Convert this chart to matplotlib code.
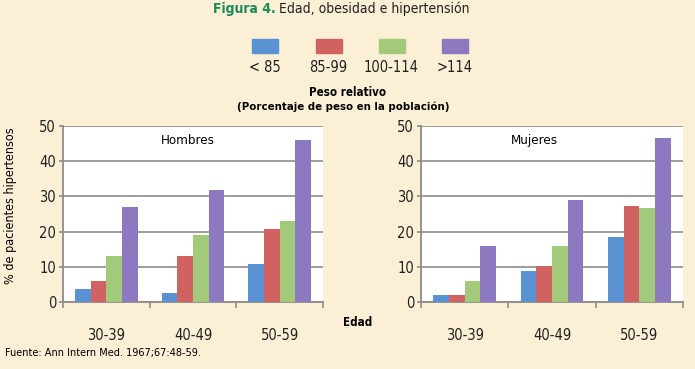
import numpy as np
import matplotlib
matplotlib.use("Agg")
import matplotlib.pyplot as plt
from matplotlib.patches import Rectangle

plt.rcParams['font.family'] = ['DejaVu Sans']
plt.rcParams['font.stretch'] = 'condensed'

# data
ages = ["30-39", "40-49", "50-59"]
weight_groups = ["< 85", "85-99", "100-114", ">114"]
hombres = [
    [3.6, 2.6, 10.9],    # < 85
    [5.9, 13.0, 20.7],   # 85-99
    [13.0, 18.9, 23.0],  # 100-114
    [27.0, 31.9, 45.9],  # >114
]
mujeres = [
    [1.9, 8.7, 18.6],
    [1.9, 10.2, 27.2],
    [6.0, 15.9, 26.8],
    [15.9, 29.0, 46.5],
]

colors = ["#5A92D4", "#D06361", "#A3C97B", "#8D79BF"]
bg = "#FBF0D6"
grid_col = "#8C8C8C"
W, H = 695, 369

fig = plt.figure(figsize=(6.95, 3.69), dpi=100, facecolor=bg)

def panel(rect, data, label, label_x):
    ax = fig.add_axes(rect)
    ax.set_facecolor("white")
    x = np.arange(len(ages))
    w = 0.18
    for i, vals in enumerate(data):
        ax.bar(x + (i - 1.5) * w, vals, width=w, color=colors[i], zorder=3)
    ax.set_xlim(-0.5, 2.5)
    ax.set_ylim(0, 50)
    ax.set_yticks([0, 10, 20, 30, 40, 50])
    ax.yaxis.grid(True, color=grid_col, linewidth=1.2, zorder=1)
    ax.set_xticks([-0.5, 0.5, 1.5, 2.5])
    ax.set_xticklabels([])
    ax.set_xticks(x, minor=True)
    ax.set_xticklabels(ages, minor=True, fontsize=10.5, color="#222222")
    ax.tick_params(axis="x", which="minor", length=0, pad=19)
    ax.tick_params(axis="x", which="major", length=4, color=grid_col, width=1.2)
    ax.tick_params(axis="y", length=3, color=grid_col, width=1.2, labelsize=10.5,
                   pad=2, labelcolor="#222222")
    for s in ["top", "right"]:
        ax.spines[s].set_visible(False)
    for s in ["left", "bottom"]:
        ax.spines[s].set_color(grid_col)
        ax.spines[s].set_linewidth(1.3)
    ax.text(label_x, 46.0, label, fontsize=9.5, ha="center", va="center")
    return ax

ax1 = panel([63 / W, 1 - 302 / H, 260 / W, 176 / H], hombres, "Hombres", 0.94)
ax2 = panel([421 / W, 1 - 302 / H, 262 / W, 176 / H], mujeres, "Mujeres", 0.80)

fig.text(11 / W, 1 - 206 / H, "% de pacientes hipertensos", fontsize=9,
         rotation=90, ha="center", va="center")

# title: bold green prefix, then plain text right after it
t1 = fig.text(213 / W, 1 - 9 / H, "Figura 4.", color="#1E8A5A", fontweight="bold",
              fontsize=10, ha="left", va="center")
fig.canvas.draw()
bb = t1.get_window_extent()
fig.text((bb.x1 + 3) / W, 1 - 9 / H, "Edad, obesidad e hipertensión",
         color="#222222", fontsize=10, ha="left", va="center")

# legend
centers = [265, 328.5, 391.5, 454.5]
for c, lab, col in zip(centers, weight_groups, colors):
    fig.patches.append(Rectangle(((c - 13) / W, 1 - 53 / H), 26 / W, 14 / H,
                                 transform=fig.transFigure, color=col))
    fig.text(c / W, 1 - 67 / H, lab, fontsize=10.5, ha="center", va="center",
             color="#222222")

fig.text(348 / W, 1 - 92 / H, "Peso relativo", fontweight="bold", fontsize=8.3,
         ha="center", va="center")
fig.text(343 / W, 1 - 107 / H, "(Porcentaje de peso en la población)",
         fontweight="bold", fontsize=8.2, ha="center", va="center")

fig.text(343 / W, 1 - 323 / H, "Edad", fontweight="bold", fontsize=8.3,
         ha="left", va="center")
fig.text(5 / W, 1 - 353 / H, "Fuente: Ann Intern Med. 1967;67:48-59.",
         fontsize=7.8, ha="left", va="center")

fig.savefig("out.png", dpi=100, facecolor=bg)
